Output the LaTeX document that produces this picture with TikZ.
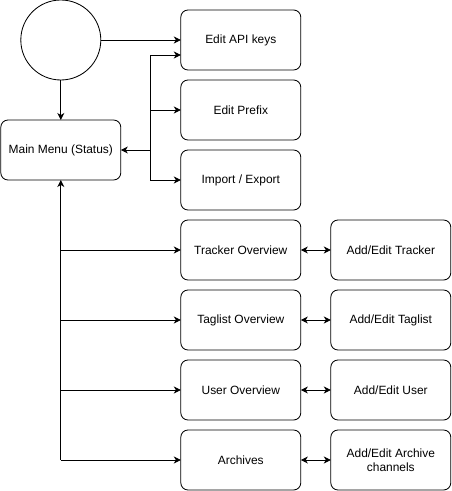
\documentclass[tikz,border=0pt]{standalone}
\usepackage{fontspec}
\setmainfont{Liberation Sans}
\usetikzlibrary{shapes,arrows.meta,positioning,calc}

\tikzset{
  screen/.style={draw,rounded corners=0.18cm,minimum width=3cm,minimum height=1.5cm,
    outer sep=0pt,align=center,inner sep=1pt,font=\fontsize{8.5}{10}\selectfont},
  start/.style={draw,circle,minimum size=2cm,outer sep=0pt},
}

\begin{document}
\begin{tikzpicture}[node distance=0.25cm and 0.75cm,line width=0.6pt,
  >={Stealth[length=5pt,width=5pt,inset=1.5pt]}]
\useasboundingbox (-0.02,0) rectangle (11.255,-12.275);
\node[start] (s) at (1.5,-1) {};
\node[screen] (main) at (1.5,-3.75) {Main Menu (Status)};
\node[screen] (api) at (6,-1) {Edit API keys};
\node[screen,below=of api] (prefix) {Edit Prefix};
\node[screen,below=of prefix] (impexp) {Import / Export};
\node[screen,below=of impexp] (tracker) {Tracker Overview};
\node[screen,below=of tracker] (taglist) {Taglist Overview};
\node[screen,below=of taglist] (user) {User Overview};
\node[screen,below=of user] (archives) {Archives};
\node[screen,right=of tracker] (addtracker) {Add/Edit Tracker};
\node[screen,right=of taglist] (addtaglist) {Add/Edit Taglist};
\node[screen,right=of user] (adduser) {Add/Edit User};
\node[screen,right=of archives] (addarchive) {Add/Edit Archive\\channels};

% start
\draw[->] (s) -- (api);
\draw[->] (s) -- (main);

% settings screens
\coordinate (j) at ($(main.east)+(0.75,0)$);
\coordinate (apiin) at ($(api.west)+(0,-0.375)$);
\draw[->] (j) -- (main);
\draw[->] (j) |- (apiin);
\draw[->] (j) |- (prefix);
\draw[->] (j) |- (impexp);

% overviews
\coordinate (b) at (main.south |- archives.west);
\draw[->] (b) -- (main);
\draw[->] (main.south |- tracker.west) -- (tracker);
\draw[->] (main.south |- taglist.west) -- (taglist);
\draw[->] (main.south |- user.west) -- (user);
\draw[->] (b) -- (archives);

\draw[<->] (tracker) -- (addtracker);
\draw[<->] (taglist) -- (addtaglist);
\draw[<->] (user) -- (adduser);
\draw[<->] (archives) -- (addarchive);
\end{tikzpicture}
\end{document}
